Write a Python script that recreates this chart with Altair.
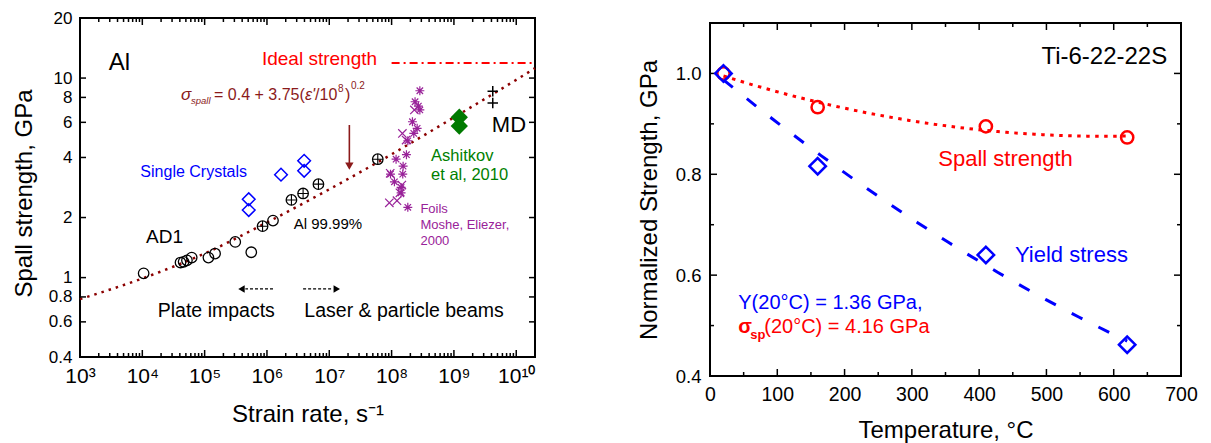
import altair as alt
import pandas as pd

FONT = "Liberation Sans"

# ---------------- Left panel: Al spall strength vs strain rate ----------------
fit_rate = [1e3, 1e4, 1e5, 1e6, 1e7, 1e8, 1e9, 1e10, 2e10]
fit_spall = [0.78, 0.99, 1.32, 1.89, 2.77, 4.15, 6.35, 9.8, 11.2]

ideal_rate = [1e8, 2e10]
ideal_spall = [11.9, 11.9]

ad1_rate = [1.05e4, 4.1e4, 4.6e4, 5.2e4, 6.2e4, 1.15e5, 1.47e5, 3.1e5, 5.6e5, 1.25e6]
ad1_spall = [1.05, 1.19, 1.20, 1.22, 1.26, 1.26, 1.32, 1.51, 1.34, 1.93]

al_rate = [8.5e5, 2.47e6, 3.8e6, 6.7e6, 6.0e7]
al_spall = [1.81, 2.45, 2.64, 2.94, 3.92]

sc_rate = [5.1e5, 5.1e5, 1.68e6, 3.95e6, 3.95e6]
sc_spall = [2.47, 2.18, 3.28, 3.85, 3.43]

ash_rate = [1.22e9, 1.22e9]
ash_spall = [6.36, 5.75]

md_rate = [4.2e9, 4.2e9]
md_spall = [8.6, 7.5]

foil_star_rate = [2.84e8, 2.38e8, 2.69e8, 2.84e8, 2.16e8, 2.57e8, 2.27e8, 1.82e8, 1.73e8,
                  1.18e8, 1.53e8, 9.6e7, 1.51e8, 1.11e8, 1.42e8, 1.42e8, 1.82e8]
foil_star_spall = [8.64, 7.61, 7.24, 6.92, 6.04, 5.60, 5.28, 4.85, 4.13,
                   3.92, 3.62, 3.30, 3.30, 3.02, 2.83, 2.66, 2.25]
foil_x_rate = [2.32e8, 1.49e8, 1.71e8, 1.46e8, 1.36e8, 9.2e7, 1.22e8, 9.5e7]
foil_x_spall = [6.92, 5.28, 4.89, 2.91, 2.66, 2.37, 2.43, 3.33]

x1_major = [1e3, 1e4, 1e5, 1e6, 1e7, 1e8, 1e9, 1e10]
x1_minor = [m * 10 ** e for e in range(3, 11) for m in range(2, 10) if m * 10 ** e < 2e10]
y1_ticks = [0.4, 0.6, 0.8, 1, 2, 4, 6, 8, 10, 20]

# ---------------- Right panel: Ti-6-22-22S ----------------
temp_c = [20, 160, 410, 620]
spall_norm = [1.0, 0.933, 0.895, 0.873]
yield_norm = [1.0, 0.816, 0.64, 0.462]

x2_major = [0, 100, 200, 300, 400, 500, 600, 700]
x2_minor = [50, 150, 250, 350, 450, 550, 650]
y2_major = [0.4, 0.6, 0.8, 1.0]
y2_minor = [0.5, 0.7, 0.9]

W1, H1 = 455, 339
W2, H2 = 471, 353

xs1 = alt.Scale(type="log", domain=[1e3, 2e10], nice=False)
ys1 = alt.Scale(type="log", domain=[0.4, 20], nice=False)
xs2 = alt.Scale(domain=[0, 700], nice=False)
ys2 = alt.Scale(domain=[0.4, 1.1], nice=False)

SUP = "['\u2070','\u00b9','\u00b2','\u00b3','\u2074','\u2075','\u2076','\u2077','\u2078','\u2079','\u00b9\u2070']"

AX1 = alt.Axis(
    title="Strain rate, s\u207b\u00b9", values=x1_major,
    labelExpr="'10' + " + SUP + "[round(log(datum.value)/LN10)]",
    ticks=False, domain=False, grid=False, labelFontSize=21, titleFontSize=24,
    labelPadding=8, titlePadding=16, labelOverlap=False, labelFlush=False)
AY1 = alt.Axis(
    title="Spall strength, GPa", values=y1_ticks, format="~g",
    ticks=False, domain=False, grid=False, labelFontSize=17, titleFontSize=24,
    labelPadding=8, titlePadding=12, labelOverlap=False, labelFlush=False, titleY=175)
AX2 = alt.Axis(
    title="Temperature, \u00b0C", values=x2_major, format="d",
    ticks=False, domain=False, grid=False, labelFontSize=19.5, titleFontSize=24,
    labelPadding=9, titlePadding=15, labelOverlap=False, labelFlush=False)
AY2 = alt.Axis(
    title="Normalized Strength, GPa", values=y2_major, format=".1f",
    ticks=False, domain=False, grid=False, labelFontSize=18.5, titleFontSize=24,
    labelPadding=9, titlePadding=14, labelOverlap=False, labelFlush=False)

AXES = {id(xs1): AX1, id(ys1): AY1, id(xs2): AX2, id(ys2): AY2}

PLUS = "M-1,0L1,0M0,-1L0,1"
XMARK = "M-1,-1L1,1M-1,1L1,-1"
STAR = "M-1,0L1,0M0,-1L0,1M-0.72,-0.72L0.72,0.72M-0.72,0.72L0.72,-0.72"


def X(field, xs):
    return alt.X(field, scale=xs, axis=AXES[id(xs)])


def Y(field, ys):
    return alt.Y(field, scale=ys, axis=AXES[id(ys)])


def enc(xs, ys):
    return dict(x=X("x:Q", xs), y=Y("y:Q", ys))


def pts(xv, yv, xs, ys, **mark):
    return alt.Chart(pd.DataFrame({"x": xv, "y": yv})).mark_point(**mark).encode(**enc(xs, ys))


def txt(x, y, t, xs, ys, **mark):
    opts = dict(font=FONT, align="left", baseline="alphabetic")
    opts.update(mark)
    return alt.Chart(pd.DataFrame({"x": [x], "y": [y], "t": [t]})).mark_text(**opts).encode(
        text="t:N", **enc(xs, ys))


def xticks(vals, xs, H, L):
    df = pd.DataFrame({"x": vals})
    b = alt.Chart(df).mark_rule(color="black", strokeWidth=1.5).encode(
        x=X("x:Q", xs), y=alt.value(H), y2=alt.value(H - L))
    t = alt.Chart(df).mark_rule(color="black", strokeWidth=1.5).encode(
        x=X("x:Q", xs), y=alt.value(0), y2=alt.value(L))
    return [b, t]


def yticks(vals, ys, W, L):
    df = pd.DataFrame({"y": vals})
    l = alt.Chart(df).mark_rule(color="black", strokeWidth=1.5).encode(
        y=Y("y:Q", ys), x=alt.value(0), x2=alt.value(L))
    r = alt.Chart(df).mark_rule(color="black", strokeWidth=1.5).encode(
        y=Y("y:Q", ys), x=alt.value(W), x2=alt.value(W - L))
    return [l, r]


fit_line = alt.Chart(pd.DataFrame({"x": fit_rate, "y": fit_spall})).mark_line(
    color="#8B0000", strokeWidth=2.5, strokeDash=[2.5, 5], interpolate="monotone"
).encode(**enc(xs1, ys1))

ideal_line = alt.Chart(pd.DataFrame({"x": ideal_rate, "y": ideal_spall})).mark_line(
    color="#FF0000", strokeWidth=2, strokeDash=[8, 4, 2, 4]).encode(**enc(xs1, ys1))

DARKRED = "#8B1A1A"


def hrule(x1, x2, y, **mark):
    df = pd.DataFrame({"x": [x1], "x2": [x2], "y": [y]})
    return alt.Chart(df).mark_rule(**mark).encode(x=X("x:Q", xs1), x2="x2:Q", y=Y("y:Q", ys1))


def vrule(x, y1, y2, **mark):
    df = pd.DataFrame({"x": [x], "y": [y1], "y2": [y2]})
    return alt.Chart(df).mark_rule(**mark).encode(x=X("x:Q", xs1), y=Y("y:Q", ys1), y2="y2:Q")


arrow_layers = [
    hrule(1.25e6, 4.5e5, 0.877, color="black", strokeWidth=1.3, strokeDash=[3, 2]),
    pts([3.9e5], [0.877], xs1, ys1, shape="triangle-left", filled=True, size=55, color="black", opacity=1),
    hrule(3.8e6, 1.15e7, 0.877, color="black", strokeWidth=1.3, strokeDash=[3, 2]),
    pts([1.32e7], [0.877], xs1, ys1, shape="triangle-right", filled=True, size=55, color="black", opacity=1),
    vrule(2.1e7, 5.82, 3.75, color=DARKRED, strokeWidth=1.6),
    pts([2.1e7], [3.62], xs1, ys1, shape="triangle-down", filled=True, size=70, color=DARKRED, opacity=1),
]

left_points = [
    pts(ad1_rate, ad1_spall, xs1, ys1, shape="circle", size=110, filled=False, color="black", strokeWidth=1.3, opacity=1),
    pts(al_rate, al_spall, xs1, ys1, shape="circle", size=110, filled=False, color="black", strokeWidth=1.3, opacity=1),
    pts(al_rate, al_spall, xs1, ys1, shape=PLUS, size=110, filled=False, color="black", strokeWidth=1.1, opacity=1),
    pts(sc_rate, sc_spall, xs1, ys1, shape="diamond", size=160, filled=False, color="#0000FF", strokeWidth=1.5, opacity=1),
    pts(ash_rate, ash_spall, xs1, ys1, shape="diamond", size=300, filled=True, color="#007A00", opacity=1),
    pts(md_rate, md_spall, xs1, ys1, shape=PLUS, size=110, filled=False, color="black", strokeWidth=1.5, opacity=1),
    pts(foil_star_rate, foil_star_spall, xs1, ys1, shape=STAR, size=80, filled=False, color="#992299", strokeWidth=1.2, opacity=1),
    pts(foil_x_rate, foil_x_spall, xs1, ys1, shape=XMARK, size=70, filled=False, color="#992299", strokeWidth=1.2, opacity=1),
]

FX, FY = 4.18e4, 7.76
left_text = [
    txt(2.9e3, 11.0, "Al", xs1, ys1, fontSize=24, color="black"),
    txt(8.3e5, 11.6, "Ideal strength", xs1, ys1, fontSize=19, color="#FF0000"),
    txt(FX, FY, "\u03c3", xs1, ys1, fontSize=17, color=DARKRED, fontStyle="italic"),
    txt(FX, FY, "spall", xs1, ys1, fontSize=9.5, color=DARKRED, fontStyle="italic", dx=10, dy=4),
    txt(FX, FY, "= 0.4 + 3.75(", xs1, ys1, fontSize=16, color=DARKRED, dx=33),
    txt(FX, FY, "\u03b5'", xs1, ys1, fontSize=16, color=DARKRED, fontStyle="italic", dx=124),
    txt(FX, FY, "/10", xs1, ys1, fontSize=16, color=DARKRED, dx=134),
    txt(FX, FY, "8", xs1, ys1, fontSize=10, color=DARKRED, dx=157, dy=-8),
    txt(FX, FY, ")", xs1, ys1, fontSize=16, color=DARKRED, dx=164),
    txt(FX, FY, "0.2", xs1, ys1, fontSize=10, color=DARKRED, dx=170, dy=-11),
    txt(9.3e3, 3.18, "Single Crystals", xs1, ys1, fontSize=16, color="#0000FF"),
    txt(1.15e4, 1.485, "AD1", xs1, ys1, fontSize=19, color="black"),
    txt(2.69e6, 1.745, "Al 99.99%", xs1, ys1, fontSize=15, color="black"),
    txt(1.77e4, 0.632, "Plate impacts", xs1, ys1, fontSize=19.5, color="black"),
    txt(3.98e6, 0.637, "Laser & particle beams", xs1, ys1, fontSize=19.5, color="black"),
    txt(4.3e8, 3.85, "Ashitkov", xs1, ys1, fontSize=16.5, color="#008000"),
    txt(4.3e8, 3.08, "et al, 2010", xs1, ys1, fontSize=16.5, color="#008000"),
    txt(4.06e9, 5.38, "MD", xs1, ys1, fontSize=22, color="black"),
    txt(2.9e8, 2.10, "Foils", xs1, ys1, fontSize=13, color="#992299"),
    txt(2.9e8, 1.745, "Moshe, Eliezer,", xs1, ys1, fontSize=13, color="#992299"),
    txt(2.9e8, 1.456, "2000", xs1, ys1, fontSize=13, color="#992299"),
]

left = alt.layer(
    fit_line, ideal_line,
    *xticks(x1_major, xs1, H1, 7), *xticks(x1_minor, xs1, H1, 4), *yticks(y1_ticks, ys1, W1, 6),
    *arrow_layers, *left_points, *left_text,
).properties(width=W1, height=H1)

# ---------------- Right panel ----------------
rdf_s = pd.DataFrame({"x": temp_c, "y": spall_norm})
rdf_y = pd.DataFrame({"x": temp_c, "y": yield_norm})

spall_fit = alt.Chart(rdf_s).transform_regression("x", "y", method="poly", order=2).mark_line(
    color="#FF0000", strokeWidth=3, strokeDash=[3.5, 5.5]).encode(**enc(xs2, ys2))
yield_fit = alt.Chart(rdf_y).transform_regression("x", "y", method="poly", order=2).mark_line(
    color="#0000FF", strokeWidth=3, strokeDash=[12, 18]).encode(**enc(xs2, ys2))

right_points = [
    alt.Chart(rdf_s).mark_point(shape="circle", size=150, filled=False, color="#FF0000",
                                strokeWidth=2.5, opacity=1).encode(**enc(xs2, ys2)),
    alt.Chart(rdf_y).mark_point(shape="diamond", size=270, filled=False, color="#0000FF",
                                strokeWidth=2.5, opacity=1).encode(**enc(xs2, ys2)),
]

SX, SY = 42, 0.4844
right_text = [
    txt(679.5, 1.019, "Ti-6-22-22S", xs2, ys2, fontSize=24, color="black", align="right"),
    txt(339.3, 0.8164, "Spall strength", xs2, ys2, fontSize=22, color="#FF0000"),
    txt(453.3, 0.6263, "Yield stress", xs2, ys2, fontSize=22, color="#0000FF"),
    txt(42, 0.5327, "Y(20\u00b0C) = 1.36 GPa,", xs2, ys2, fontSize=20, color="#0000FF"),
    txt(SX, SY, "\u03c3", xs2, ys2, fontSize=20, color="#FF0000", fontWeight="bold"),
    txt(SX, SY, "sp", xs2, ys2, fontSize=13, color="#FF0000", fontWeight="bold", dx=12, dy=6),
    txt(SX, SY, "(20\u00b0C) = 4.16 GPa", xs2, ys2, fontSize=20, color="#FF0000", dx=26),
]

right = alt.layer(
    spall_fit, yield_fit,
    *xticks(x2_major, xs2, H2, 7), *xticks(x2_minor, xs2, H2, 4),
    *yticks(y2_major, ys2, W2, 7), *yticks(y2_minor, ys2, W2, 4),
    *right_points, *right_text,
).properties(width=W2, height=H2)

# small invisible spacer that lowers the right panel by a few pixels
spacer = alt.Chart(pd.DataFrame({"x": [0]})).mark_point(opacity=0).encode(
    x=alt.X("x:Q", axis=None), y=alt.value(0)
).properties(width=W2, height=2,
             view=alt.ViewBackground(stroke="transparent", fill="transparent", strokeWidth=0))

right_col = alt.vconcat(spacer, right, spacing=0)

chart = alt.hconcat(left, right_col, spacing=95).properties(
    padding={"left": 11, "top": 8, "right": 0, "bottom": 0},
    background="white",
).configure_view(
    stroke="black", strokeWidth=2
).configure_axis(
    labelFont=FONT, titleFont=FONT, titleFontWeight="normal",
    labelColor="black", titleColor="black",
).configure_title(font=FONT)

chart.save("out.html", embed_options={"renderer": "svg", "actions": False})
